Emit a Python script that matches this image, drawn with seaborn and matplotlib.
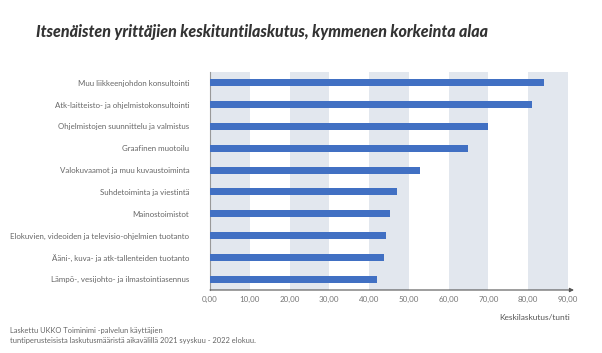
import matplotlib
matplotlib.use("Agg")
import matplotlib.pyplot as plt
import seaborn as sns
import pandas as pd
from matplotlib.ticker import FuncFormatter

categories = [
    "Muu liikkeenjohdon konsultointi",
    "Atk-laitteisto- ja ohjelmistokonsultointi",
    "Ohjelmistojen suunnittelu ja valmistus",
    "Graafinen muotoilu",
    "Valokuvaamot ja muu kuvaustoiminta",
    "Suhdetoiminta ja viestintä",
    "Mainostoimistot",
    "Elokuvien, videoiden ja televisio-ohjelmien tuotanto",
    "Ääni-, kuva- ja atk-tallenteiden tuotanto",
    "Lämpö-, vesijohto- ja ilmastointiasennus",
]
values = [83.9, 80.9, 70.0, 64.9, 52.9, 47.1, 45.3, 44.2, 43.7, 41.9]
x_ticks = [0, 10, 20, 30, 40, 50, 60, 70, 80, 90]

df = pd.DataFrame({"ala": categories, "laskutus": values})

sns.set_theme(style="white")
plt.rcParams["font.family"] = ["Lato", "DejaVu Sans"]

fig = plt.figure(figsize=(6.02, 3.53), dpi=100)
ax = fig.add_axes([210/602, 1-290/353, 358/602, 218/353])

for i in range(0, 90, 20):
    ax.axvspan(i, i + 10, color="#e2e7ee", zorder=0, lw=0)

sns.barplot(data=df, x="laskutus", y="ala", orient="h", color="#4170c3",
            width=0.32, ax=ax, zorder=3, saturation=1, linewidth=0)

ax.set_xlim(0, 90)
ax.set_ylim(9.5, -0.5)
ax.set_xticks(x_ticks)
ax.xaxis.set_major_formatter(FuncFormatter(lambda v, p: f"{v:.2f}".replace(".", ",")))
ax.tick_params(axis="x", labelsize=5.8, colors="#777777", length=0, pad=4)
ax.tick_params(axis="y", labelsize=5.7, colors="#666666", length=0, pad=15)
ax.set_xlabel("")
ax.set_ylabel("")
for s in ["top", "right"]:
    ax.spines[s].set_visible(False)
ax.spines["left"].set_color("#999999")
ax.spines["left"].set_linewidth(0.8)
ax.spines["bottom"].set_visible(False)
ax.annotate("", xy=(91.5, 9.5), xytext=(0, 9.5), xycoords="data",
            arrowprops=dict(arrowstyle="-|>", color="#555555", lw=0.8,
                            mutation_scale=6, shrinkA=0, shrinkB=0),
            annotation_clip=False, zorder=5)

fig.text(570/602, 1-317/353, "Keskilaskutus/tunti", ha="right", va="center",
         fontsize=6.0, color="#555555")
fig.text(262/602, 1-32/353, "Itsenäisten yrittäjien keskituntilaskutus, kymmenen korkeinta alaa",
         ha="center", va="center", fontsize=11.5, fontweight="black", style="italic",
         color="#333333")
fig.text(10/602, 1-331/353, "Laskettu UKKO Toiminimi -palvelun käyttäjien",
         ha="left", va="center", fontsize=5.4, color="#666666")
fig.text(10/602, 1-340/353, "tuntiperusteisista laskutusmääristä aikavälillä 2021 syyskuu - 2022 elokuu.",
         ha="left", va="center", fontsize=5.4, color="#666666")

fig.savefig("out.png", dpi=100, facecolor="white")
